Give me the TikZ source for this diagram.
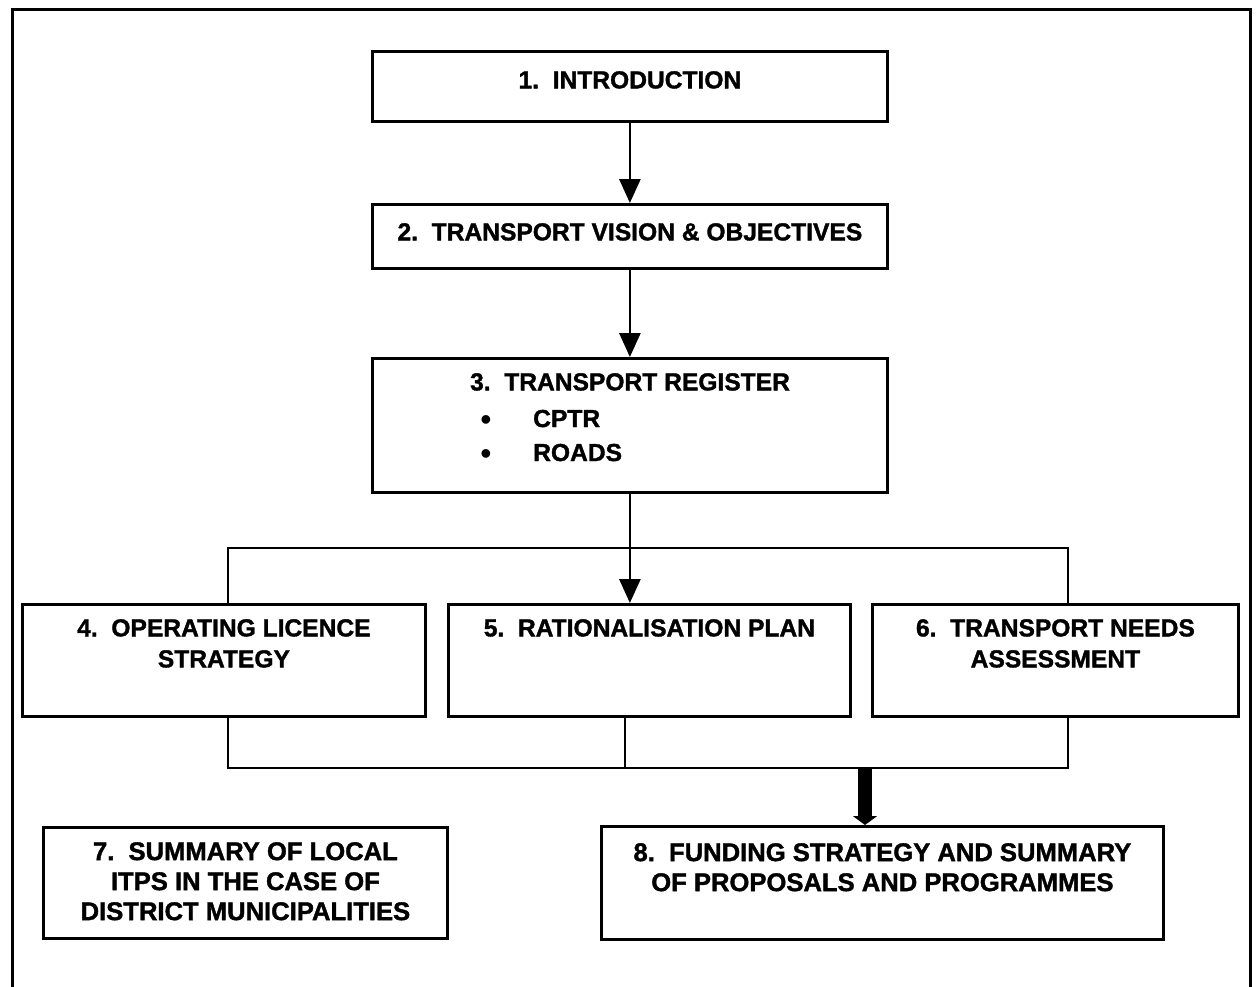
\documentclass[tikz,border=0pt]{standalone}
\usepackage{fontspec}
\setmainfont{Liberation Sans}[BoldFeatures={FakeBold=1.4}]
\usetikzlibrary{arrows.meta,positioning}

\tikzset{
  box/.style={draw, line width=2.8pt, rectangle, inner sep=0pt, anchor=north west},
  lbl/.style={font=\fontsize{24.6}{31}\selectfont\bfseries, align=center, inner sep=0pt},
  biglbl/.style={lbl, font=\fontsize{25.6}{30}\selectfont\bfseries},
  dot/.style={font=\fontsize{32}{32}\selectfont, inner sep=0pt, anchor=base},
  conn/.style={line width=2.8pt},
  arr/.style={conn, -{Triangle[width=21pt,length=24pt]}},
}

\begin{document}
\begin{tikzpicture}[x=1pt,y=-1pt]
        \useasboundingbox (0,0) rectangle (1258,986);
        % frame, open at the bottom
        \draw[line width=3pt] (12,995) -- (12,9) -- (1250,9) -- (1250,995);

        % boxes
        \node[box, minimum width=515pt, minimum height=70pt] (intro) at (371,50) {};
        \node[box, minimum width=515pt, minimum height=64pt] (vision) at (371,203) {};
        \node[box, minimum width=515pt, minimum height=134pt] (register) at (371,357) {};
        \node[box, minimum width=403pt, minimum height=112pt] (licence) at (21,603) {};
        \node[box, minimum width=402pt, minimum height=112pt] (ration) at (447,603) {};
        \node[box, minimum width=366pt, minimum height=112pt] (needs) at (871,603) {};
        \node[box, minimum width=404pt, minimum height=111pt] (summary) at (42,826) {};
        \node[box, minimum width=562pt, minimum height=113pt] (funding) at (600,825) {};

        % texts
        \node[lbl, below=21pt of intro.north] (introtxt) {1.\ \ INTRODUCTION};
        \node[lbl, below=20pt of vision.north] (visiontxt) {2.\ \ TRANSPORT VISION \& OBJECTIVES};
        \node[lbl, anchor=north] (regtxt) at (630,373) {3.\ \ TRANSPORT REGISTER};
        \node[dot] (dota) at (486,430) {•};
        \node[lbl, anchor=base west] (cptr) at (533,427) {CPTR};
        \node[dot] (dotb) at (486,464) {•};
        \node[lbl, anchor=base west] (roads) at (533,461) {ROADS};
        \node[lbl, below=16pt of licence.north] (licencetxt) {4.\ \ OPERATING LICENCE\\STRATEGY};
        \node[lbl, below=16pt of ration.north] (rationtxt) {5.\ \ RATIONALISATION PLAN};
        \node[lbl, below=16pt of needs.north] (needstxt) {6.\ \ TRANSPORT NEEDS\\ASSESSMENT};
        \node[biglbl, below=16pt of summary.north] (summarytxt) {7.\ \ SUMMARY OF LOCAL\\ITPS IN THE CASE OF\\DISTRICT MUNICIPALITIES};
        \node[biglbl, below=18pt of funding.north] (fundingtxt) {8.\ \ FUNDING STRATEGY AND SUMMARY\\OF PROPOSALS AND PROGRAMMES};

        % connectors
        \draw[arr] (intro.south) -- (vision.north);
        \draw[arr] (vision.south) -- (register.north);
        \draw[arr] (register.south) -- (register.south |- ration.north);

        \coordinate (topL) at (228,548);
        \coordinate (topR) at (1068,548);
        \draw[conn] (topL |- licence.north) -- (topL) -- (topR) -- (topR |- needs.north);

        \coordinate (botL) at (228,768);
        \coordinate (botR) at (1068,768);
        \coordinate (botM) at (625,768);
        \draw[conn] (botL |- licence.south) -- (botL) -- (botR) -- (botR |- needs.south);
        \draw[conn] (botM |- ration.south) -- (botM);

        \coordinate (feed) at (865,768);
        \draw[line width=14pt, -{Triangle[width=24pt,length=9pt]}] (feed) -- (feed |- funding.north);
    \end{tikzpicture}
\end{document}
